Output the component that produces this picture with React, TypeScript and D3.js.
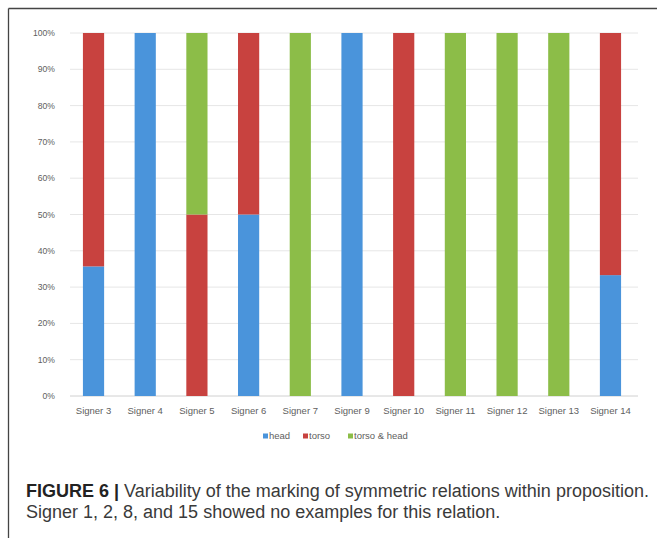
import React from "react";
import * as d3 from "d3";

const categories = ["Signer 3","Signer 4","Signer 5","Signer 6","Signer 7","Signer 9","Signer 10","Signer 11","Signer 12","Signer 13","Signer 14"];
const head = [35.7, 100, 0, 50, 0, 100, 0, 0, 0, 0, 33.3];
const torso = [64.3, 0, 50, 50, 0, 0, 100, 0, 0, 0, 66.7];
const torsoHead = [0, 0, 50, 0, 100, 0, 0, 100, 100, 100, 0];
const seriesNames = ["head", "torso", "torso & head"];
const seriesColors = ["#4A94DB", "#C8423F", "#8CBD48"];
const yTicks = [0, 10, 20, 30, 40, 50, 60, 70, 80, 90, 100];

export default function App() {
  const W = 657, H = 538;
  const x = d3.scaleBand<string>().domain(categories).range([70, 634]).paddingInner(0.59).paddingOuter(0.25);
  const y = d3.scaleLinear().domain([0, 100]).range([396, 33]);
  const rows = categories.map((c, i) => ({ cat: c, head: head[i], torso: torso[i], th: torsoHead[i] }));
  const stack = d3.stack<any>().keys(["head", "torso", "th"])(rows);
  const legendX = [263, 303, 348];
  const font = "Liberation Sans, Arial, sans-serif";
  return (
    <svg width={W} height={H} style={{ position: "absolute", left: 0, top: 0 }}>
      <rect x={0} y={0} width={W} height={H} fill="#fff" />
      <line x1={8.5} y1={8.5} x2={W} y2={8.5} stroke="#444" strokeWidth={1.3} />
      <line x1={8.5} y1={8.5} x2={8.5} y2={H} stroke="#444" strokeWidth={1.3} />
      {yTicks.map((t) => (
        <g key={t}>
          <line x1={70} x2={638} y1={y(t)} y2={y(t)} stroke={t === 0 ? "#d0d0d0" : "#e6e6e6"} strokeWidth={1} />
          <text x={55} y={y(t)} dy="0.35em" textAnchor="end" fontSize={8.6} fill="#606060" fontFamily={font}>{t}%</text>
        </g>
      ))}
      {stack.map((s, si) => (
        <g key={si} fill={seriesColors[si]}>
          {s.map((d: any, i: number) => (
            d[1] - d[0] > 0 ? (
              <rect key={i} x={x(categories[i])} width={x.bandwidth()} y={y(d[1])} height={y(d[0]) - y(d[1])} />
            ) : null
          ))}
        </g>
      ))}
      {categories.map((c) => (
        <text key={c} x={(x(c) as number) + x.bandwidth() / 2} y={411} dy="0.35em" textAnchor="middle" fontSize={9.5} fill="#606060" fontFamily={font}>{c}</text>
      ))}
      {seriesNames.map((n, i) => (
        <g key={n}>
          <rect x={legendX[i]} y={433.5} width={5} height={5} fill={seriesColors[i]} />
          <text x={legendX[i] + 6} y={436} dy="0.35em" fontSize={9.5} fill="#606060" fontFamily={font}>{n}</text>
        </g>
      ))}
      <text x={26} y={497} fontSize={18} fill="#3a3a3a" fontFamily="Liberation Sans Narrow, Liberation Sans, Arial, sans-serif">
        <tspan fontWeight="bold" fill="#222">FIGURE 6 | </tspan>Variability of the marking of symmetric relations within proposition.
      </text>
      <text x={26} y={518} fontSize={18} fill="#3a3a3a" fontFamily="Liberation Sans Narrow, Liberation Sans, Arial, sans-serif">
        Signer 1, 2, 8, and 15 showed no examples for this relation.
      </text>
    </svg>
  );
}
